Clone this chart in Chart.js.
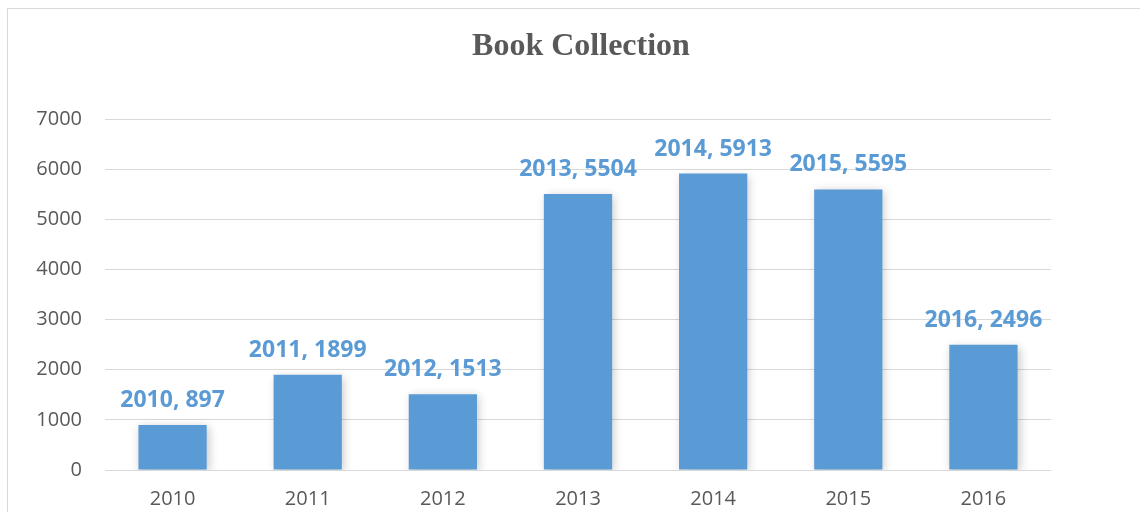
<!DOCTYPE html>
<html>
<head>
<meta charset="utf-8">
<script src="https://cdn.jsdelivr.net/npm/chart.js@4"></script>
<style>
  html, body { margin: 0; padding: 0; background: #fff; }
  #wrap { width: 1140px; height: 512px; position: relative; }
</style>
</head>
<body>
<div id="wrap"><canvas id="barChart" width="1140" height="512"></canvas></div>
<script>
const years = ['2010', '2011', '2012', '2013', '2014', '2015', '2016'];
const books = [897, 1899, 1513, 5504, 5913, 5595, 2496];
const yTicks = [0, 1000, 2000, 3000, 4000, 5000, 6000, 7000];
const chartTitle = 'Book Collection';

const barColor = '#5B9BD5';
const textGray = '#595959';
const gridGray = '#d9d9d9';

// frame around the chart (left and top edges are visible in the picture)
const framePlugin = {
    id: 'frame',
    beforeDraw(chart) {
        const ctx = chart.ctx;
        ctx.save();
        ctx.fillStyle = '#fff';
        ctx.fillRect(0, 0, chart.width, chart.height);
        ctx.strokeStyle = gridGray;
        ctx.lineWidth = 1;
        ctx.beginPath();
        ctx.moveTo(7.5, chart.height + 2);
        ctx.lineTo(7.5, 8.5);
        ctx.lineTo(chart.width + 2, 8.5);
        ctx.stroke();
        ctx.restore();
    },
    // title sits centred on the whole frame, not on the plot
    afterDraw(chart) {
        const ctx = chart.ctx;
        ctx.save();
        ctx.font = 'bold 32px "Liberation Serif", "Times New Roman", serif';
        ctx.fillStyle = textGray;
        ctx.textAlign = 'center';
        ctx.textBaseline = 'middle';
        ctx.fillText(chartTitle, 581, 47);
        ctx.restore();
    }
};

// soft shadow behind the bars
const shadowPlugin = {
    id: 'barShadow',
    beforeDatasetDraw(chart) {
        const ctx = chart.ctx;
        ctx.save();
        ctx.shadowColor = 'rgba(0, 0, 0, 0.22)';
        ctx.shadowBlur = 9;
        ctx.shadowOffsetX = 2;
        ctx.shadowOffsetY = 2;
    },
    afterDatasetDraw(chart) {
        chart.ctx.restore();
    }
};

// "year, value" labels above each bar
const labelPlugin = {
    id: 'barLabels',
    afterDatasetsDraw(chart) {
        const ctx = chart.ctx;
        const meta = chart.getDatasetMeta(0);
        ctx.save();
        ctx.font = 'bold 23px "Open Sans"';
        ctx.fillStyle = barColor;
        ctx.textAlign = 'center';
        ctx.textBaseline = 'alphabetic';
        meta.data.forEach((bar, i) => {
            ctx.fillText(years[i] + ', ' + books[i], bar.x, bar.y - 18);
        });
        ctx.restore();
    }
};

const ctx = document.getElementById('barChart').getContext('2d');
new Chart(ctx, {
    type: 'bar',
    data: {
        labels: years,
        datasets: [{
            label: chartTitle,
            data: books,
            backgroundColor: barColor,
            borderWidth: 0,
            categoryPercentage: 1,
            barPercentage: 0.505
        }]
    },
    options: {
        responsive: false,
        animation: false,
        layout: {
            padding: { left: 0, right: 89, top: 119, bottom: 0 }
        },
        plugins: {
            legend: { display: false },
            tooltip: { enabled: false },
            title: { display: false }
        },
        scales: {
            x: {
                grid: { display: false },
                border: { display: false },
                ticks: {
                    color: textGray,
                    font: { family: '"Open Sans"', size: 20 },
                    padding: 9
                },
                afterFit(scale) { scale.height = 42; }
            },
            y: {
                min: 0,
                max: 7000,
                afterBuildTicks(scale) {
                    scale.ticks = yTicks.map(v => ({ value: v }));
                },
                grid: { color: gridGray, lineWidth: 1, drawTicks: false },
                border: { display: false },
                ticks: {
                    color: textGray,
                    font: { family: '"Open Sans"', size: 20 },
                    padding: 23,
                    callback: v => String(v)
                },
                afterFit(scale) { scale.width = 105; }
            }
        }
    },
    plugins: [framePlugin, shadowPlugin, labelPlugin]
});
</script>
</body>
</html>
